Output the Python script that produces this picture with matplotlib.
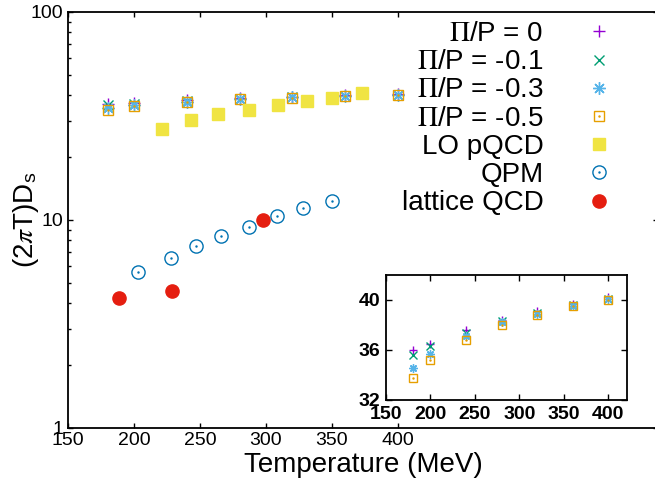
import numpy as np
import matplotlib.pyplot as plt
from matplotlib.legend_handler import HandlerTuple
from matplotlib.ticker import NullFormatter, LogLocator

plt.rcParams['font.family'] = ['Liberation Sans', 'DejaVu Sans']
plt.rcParams['mathtext.fontset'] = 'stix'

# data
temps = [180, 200, 240, 280, 320, 360, 400]
ds_p0 = [36.0, 36.5, 37.6, 38.4, 39.1, 39.7, 40.2]
ds_p01 = [35.6, 36.3, 37.4, 38.3, 39.0, 39.6, 40.1]
ds_p03 = [34.6, 35.7, 37.1, 38.2, 38.9, 39.5, 40.1]
ds_p05 = [33.8, 35.2, 36.8, 38.0, 38.8, 39.5, 40.0]

lo_temps = [221, 243, 264, 287, 309, 331, 350, 373]
lo_ds = [27.3, 30.2, 32.3, 33.7, 35.7, 37.3, 38.7, 40.8]

qpm_temps = [203, 228, 247, 266, 287, 308, 328, 350]
qpm_ds = [5.63, 6.58, 7.51, 8.37, 9.25, 10.5, 11.4, 12.4]

lat_temps = [189, 229, 298]
lat_ds = [4.21, 4.55, 10.0]

labels = [r'$\Pi$/P = 0', r'$\Pi$/P = -0.1', r'$\Pi$/P = -0.3', r'$\Pi$/P = -0.5',
          'LO pQCD', 'QPM', 'lattice QCD']

c_purple = '#9400D3'
c_green = '#009E73'
c_sky = '#56B4E9'
c_orange = '#E69F00'
c_yellow = '#F0E442'
c_blue = '#0072B2'
c_red = '#E51E10'

W, H = 655, 480
fig = plt.figure(figsize=(W / 100, H / 100), dpi=100)
ax = fig.add_axes([68 / W, 52 / H, 590 / W, 416 / H])


def draw_series(a, ms, mew):
    h = []
    h.append(a.plot(temps, ds_p0, ls='none', marker='+', ms=ms, mew=mew, color=c_purple)[0])
    h.append(a.plot(temps, ds_p01, ls='none', marker='x', ms=ms * 0.85, mew=mew, color=c_green)[0])
    h.append(a.plot(temps, ds_p03, ls='none', marker=(8, 2, 0), ms=ms, mew=mew, color=c_sky)[0])
    sq = a.plot(temps, ds_p05, ls='none', marker='s', ms=ms * 0.85, mew=mew, mfc='none', color=c_orange)[0]
    sqd = a.plot(temps, ds_p05, ls='none', marker='.', ms=1.5, color=c_orange)[0]
    h.append((sq, sqd))
    return h


handles = draw_series(ax, 9, 1.0)
lo = ax.plot(lo_temps, lo_ds, ls='none', marker='s', ms=9, color=c_yellow)[0]
qc = ax.plot(qpm_temps, qpm_ds, ls='none', marker='o', ms=9.5, mfc='none', mew=1.0, color=c_blue)[0]
qd = ax.plot(qpm_temps, qpm_ds, ls='none', marker='.', ms=1.5, color=c_blue)[0]
lat = ax.plot(lat_temps, lat_ds, ls='none', marker='o', ms=9.5, color=c_red)[0]
handles += [lo, (qc, qd), lat]

ax.set_yscale('log')
ax.set_xlim(150, 597)
ax.set_ylim(1, 100)
ax.set_xticks([150, 200, 250, 300, 350, 400])
ax.set_yticks([1, 10, 100])
ax.set_yticklabels(['1', '10', '100'])
ax.yaxis.set_minor_locator(LogLocator(base=10, subs=np.arange(2, 10)))
ax.yaxis.set_minor_formatter(NullFormatter())
ax.tick_params(which='both', direction='in', top=True, right=True, labelsize=14)
ax.tick_params(which='major', length=3.5, width=1)
ax.tick_params(which='minor', length=2, width=1)
ax.tick_params(axis='x', pad=3)
for s in ax.spines.values():
    s.set_linewidth(1.3)

ax.set_xlabel('Temperature (MeV)', fontsize=20, labelpad=2)
ax.set_ylabel(r'(2$\pi$T)D$_\mathregular{s}$', fontsize=20)
ax.yaxis.set_label_coords(-27 / 590, 0.5)

leg = ax.legend(handles, labels, loc='upper right', bbox_to_anchor=(613 / W, 1 - 21 / H),
                bbox_transform=fig.transFigure, frameon=False, markerfirst=False,
                fontsize=20, handlelength=1.0, handletextpad=1.5, labelspacing=0.08,
                borderpad=0, borderaxespad=0, numpoints=1,
                handler_map={tuple: HandlerTuple(ndivide=1, pad=0)})

# inset
axi = fig.add_axes([386 / W, 80 / H, 241 / W, 125 / H])
draw_series(axi, 6, 1.0)
axi.set_xlim(150, 421)
axi.set_ylim(32, 42)
axi.set_xticks([150, 200, 250, 300, 350, 400])
axi.set_yticks([32, 36, 40])
axi.tick_params(direction='in', top=True, right=True, length=4, width=1, labelsize=14, pad=4)
for lab in axi.get_xticklabels() + axi.get_yticklabels():
    lab.set_fontweight('bold')
for s in axi.spines.values():
    s.set_linewidth(1.3)

fig.savefig('out.png', dpi=100)
